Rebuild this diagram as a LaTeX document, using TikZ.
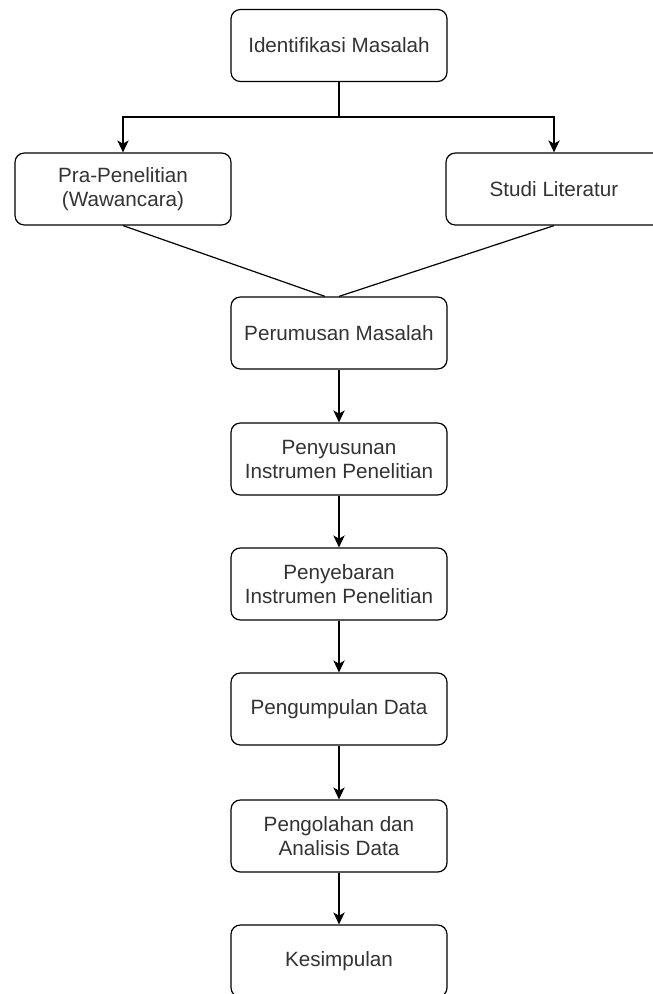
\documentclass[tikz,border=0pt]{standalone}
\usepackage{fontspec}
\setmainfont{Liberation Sans}
\usetikzlibrary{arrows.meta}

\begin{document}
\begin{tikzpicture}[x=0.75pt,y=-0.75pt,
  box/.style={draw,rounded corners=7pt,line width=0.9pt,minimum width=162pt,
    minimum height=54pt,align=center,text=black!80,
    font=\fontsize{15.5}{18}\selectfont},
  link/.style={line width=0.9pt},
  arr/.style={link,-{Stealth[length=9pt,width=8.5pt,inset=2.5pt]}}]
  \useasboundingbox (0,0) rectangle (652,994);
  \coordinate (split) at (339,117);

  \node[box] (idm)    at (339,45.5) {Identifikasi Masalah};
  \node[box] (pra)    at (123,189)  {Pra-Penelitian\\(Wawancara)};
  \node[box] (studi)  at (554,189)  {Studi Literatur};
  \node[box] (rumus)  at (339,333)  {Perumusan Masalah};
  \node[box] (susun)  at (339,459)  {Penyusunan\\Instrumen Penelitian};
  \node[box] (sebar)  at (339,584)  {Penyebaran\\Instrumen Penelitian};
  \node[box] (kumpul) at (339,709)  {Pengumpulan Data};
  \node[box] (olah)   at (339,836)  {Pengolahan dan\\Analisis Data};
  \node[box] (simpul) at (339,961)  {Kesimpulan};

  \draw[link] (idm.south) -- (split);
  \draw[arr] (split) -| (pra.north);
  \draw[arr] (split) -| (studi.north);
  \draw[link] (pra.south) -- ([xshift=-10.5pt]rumus.north);
  \draw[link] (studi.south) -- (rumus.north);
  \draw[arr] (rumus) -- (susun);
  \draw[arr] (susun) -- (sebar);
  \draw[arr] (sebar) -- (kumpul);
  \draw[arr] (kumpul) -- (olah);
  \draw[arr] (olah) -- (simpul);
\end{tikzpicture}
\end{document}
